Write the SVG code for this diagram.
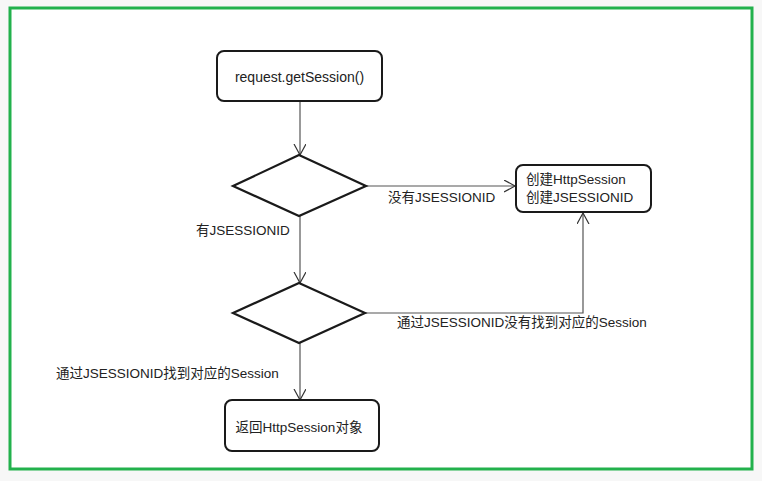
<svg xmlns="http://www.w3.org/2000/svg" width="762" height="481" viewBox="0 0 762 481">
<defs>
<style>
.box{fill:#fff;stroke:#1a1a1a;stroke-width:2}
.dia{fill:#fff;stroke:#1a1a1a;stroke-width:2.2}
.con{fill:none;stroke:#555;stroke-width:1.2}
text{font-family:"Liberation Sans","Noto Sans CJK SC",sans-serif;font-size:13.5px;fill:#222}
</style>
<marker id="arr" markerWidth="14" markerHeight="14" refX="11" refY="6" orient="auto" markerUnits="userSpaceOnUse">
<path d="M0,0 L11,6 L0,12" fill="none" stroke="#333" stroke-width="1.2"/>
</marker>
</defs>
<rect x="0" y="0" width="762" height="481" fill="#f7f7f7"/>
<rect x="10" y="8" width="742" height="461" fill="#fff" stroke="#22b14c" stroke-width="3"/>
<g id="connectors">
<line class="con" x1="300" y1="101" x2="300" y2="155" marker-end="url(#arr)"/>
<line class="con" x1="366" y1="186" x2="515" y2="186" marker-end="url(#arr)"/>
<line class="con" x1="300" y1="216" x2="300" y2="283" marker-end="url(#arr)"/>
<polyline class="con" points="365,313 583,313 583,213" marker-end="url(#arr)"/>
<line class="con" x1="300" y1="343" x2="300" y2="400" marker-end="url(#arr)"/>
<text x="388" y="202">没有JSESSIONID</text>
<text x="196" y="235">有JSESSIONID</text>
<text x="397" y="327">通过JSESSIONID没有找到对应的Session</text>
<text x="56" y="378">通过JSESSIONID找到对应的Session</text>
</g>
<g id="start">
<rect class="box" x="217" y="51" width="165" height="50" rx="7"/>
<text x="299.5" y="82" text-anchor="middle" style="font-size:14px">request.getSession()</text>
</g>
<g id="decision1">
<polygon class="dia" points="299,155 366,186 299,216 233,186"/>
</g>
<g id="create">
<rect class="box" x="516" y="165" width="135" height="47" rx="7"/>
<text x="526" y="184">创建HttpSession</text>
<text x="526" y="202">创建JSESSIONID</text>
</g>
<g id="decision2">
<polygon class="dia" points="299,283 365,313 299,343 233,313"/>
</g>
<g id="return">
<rect class="box" x="225" y="400" width="154" height="51" rx="7"/>
<text x="299" y="432" text-anchor="middle">返回HttpSession对象</text>
</g>
</svg>
